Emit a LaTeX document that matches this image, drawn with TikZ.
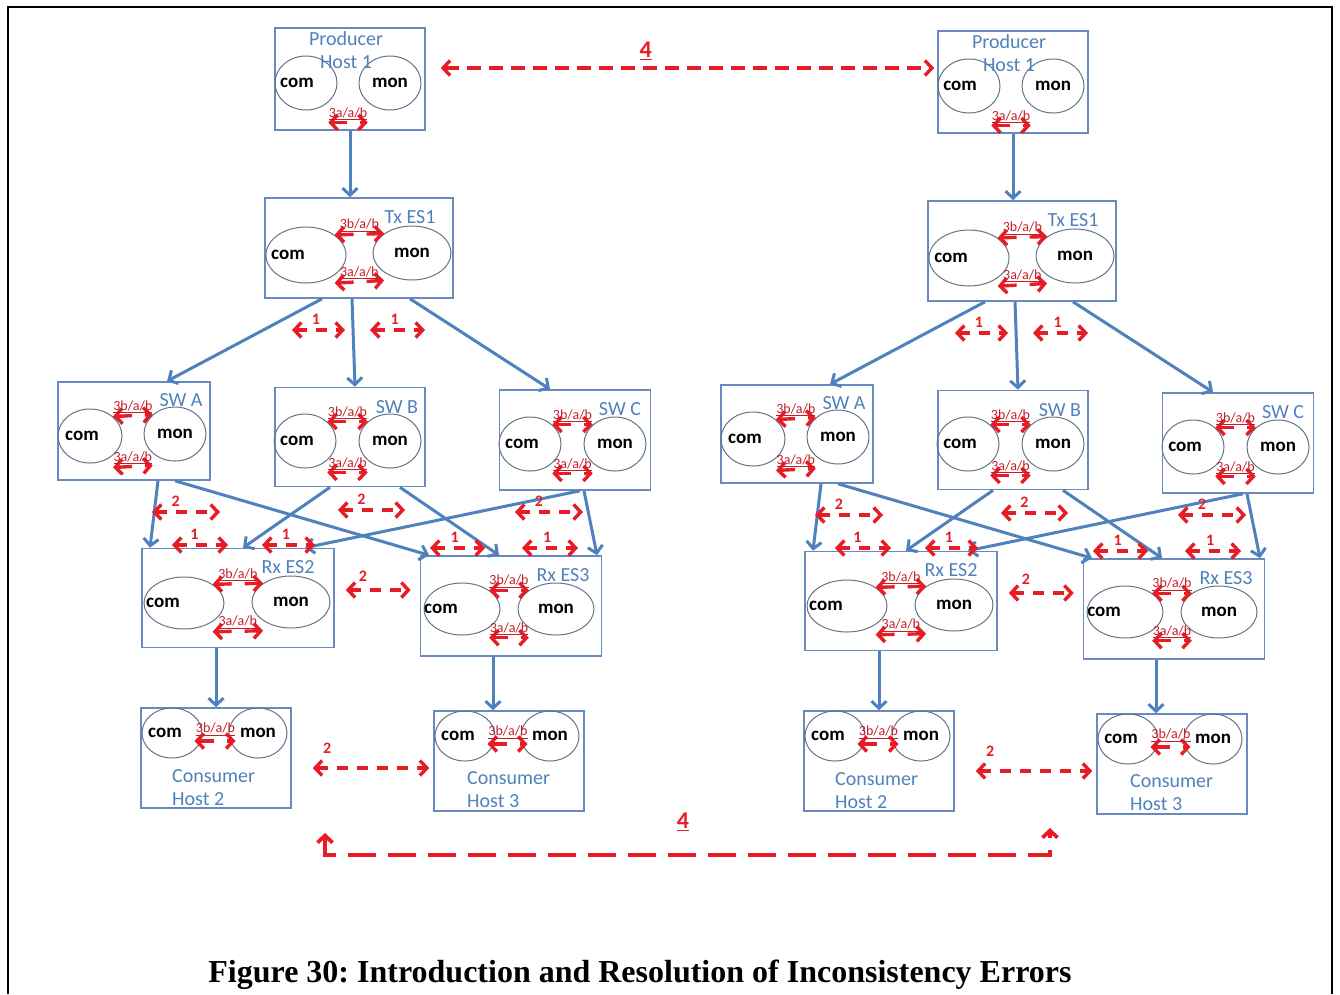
\documentclass[tikz,border=0pt]{standalone}
\usepackage{fontspec}
\setmainfont{Carlito}
\newfontfamily\capfont{Liberation Serif}
\usetikzlibrary{arrows.meta,shapes.geometric,positioning}

\definecolor{boxblue}{RGB}{105,138,190}
\definecolor{linkblue}{RGB}{79,129,189}
\definecolor{ovalgray}{RGB}{100,115,140}
\definecolor{errred}{RGB}{232,28,36}
\definecolor{tagred}{RGB}{196,30,40}

\tikzset{
  unit/.style={draw=boxblue, line width=1.6pt, minimum width=150pt, minimum height=100pt, inner sep=0pt},
  oval/.style={ellipse, draw=ovalgray, line width=1pt, inner sep=0pt, minimum width=62pt, minimum height=54pt,
    font=\fontsize{19}{19}\selectfont\bfseries},
  comoval/.style={oval, label={[font=\fontsize{19}{19}\selectfont\bfseries, xshift=#1]center:com}},
  comoval/.default=-8pt,
  unitname/.style={text=linkblue, font=\fontsize{20}{23}\selectfont, inner sep=0pt, align=center},
  link/.style={draw=linkblue, line width=3pt, -{Straight Barb[length=7pt,width=15pt]}},
  ipc/.style={draw=errred, line width=3.4pt, dash pattern=on 15pt off 13pt,
    {Straight Barb[length=7pt,width=15pt]}-{Straight Barb[length=7pt,width=15pt]}},
  tag/.style={text=tagred, font=\fontsize{14}{14}\selectfont, inner sep=1pt},
  err/.style={draw=errred, line width=3.4pt, dash pattern=on 11pt off 9pt,
    {Straight Barb[length=7pt,width=15pt]}-{Straight Barb[length=7pt,width=15pt]}},
  num/.style={text=errred, font=\fontsize{16}{16}\selectfont\bfseries, inner sep=1pt},
  bignum/.style={text=errred, font=\fontsize{24}{24}\selectfont\bfseries, inner sep=1pt},
}

\begin{document}
\frenchspacing
\begin{tikzpicture}[x=1pt,y=-1pt]
\useasboundingbox (0,0) rectangle (1340,994);
% page frame, open at the bottom
\draw[line width=1.5pt] (8,994) -- (8,7) -- (1332,7) -- (1332,994);

\foreach \s/\dx/\dy in {L/0/0,R/663/3}{
\begin{scope}[shift={(\dx,\dy)}]
  % producer host
  \node[unit, minimum height=102pt] (prod\s) at (350,79) {};
  \node[comoval=-9pt] (pcom\s) at (306,83) {};
  \node[oval] (pmon\s) at (390,83) {mon};
  \node[unitname] at (346,50) {Producer\\Host 1};
  \draw[ipc] ([yshift=-20pt]pcom\s.south east) -- node[tag, above]{\underline{3a/a/b}} ([yshift=-20pt]pmon\s.south west);

  % transmitting end system
  \node[unit, minimum width=188pt] (tx\s) at (359,248) {};
  \node[comoval=-18pt, minimum width=80pt, minimum height=56pt] (tcom\s) at (306,255) {};
  \node[oval, minimum width=78pt] (tmon\s) at (412,253) {mon};
  \node[unitname] at (410,217) {Tx ES1};
  \draw[ipc] (tcom\s.north east) -- node[tag, above]{\underline{3b/a/b}} (tmon\s.north west);
  \draw[ipc] ([yshift=-8pt]tcom\s.south east) -- node[tag, above]{\underline{3a/a/b}} ([yshift=-8pt]tmon\s.south west);

  % switches
  \node[unit, minimum width=152pt, minimum height=98pt] (swa\s) at (134,431) {};
  \node[comoval, minimum width=64pt] (acom\s) at (90,436) {};
  \node[oval] (amon\s) at (175,434) {mon};
  \node[unitname] at (181,400) {SW A};
  \draw[ipc] (acom\s.north east) -- node[tag, above]{\underline{3b/a/b}} (amon\s.north west);
  \draw[ipc] ([yshift=-12pt]acom\s.south east) -- node[tag, above]{\underline{3a/a/b}} ([yshift=-12pt]amon\s.south west);

  \node[unit, minimum height=99pt] (swb\s) at (350,437) {};
  \node[comoval] (bcom\s) at (305,441) {};
  \node[oval] (bmon\s) at (390,441) {mon};
  \node[unitname] at (397,407) {SW B};
  \draw[ipc] (bcom\s.north east) -- node[tag, above]{\underline{3b/a/b}} (bmon\s.north west);
  \draw[ipc] ([yshift=-12pt]bcom\s.south east) -- node[tag, above]{\underline{3a/a/b}} ([yshift=-12pt]bmon\s.south west);

  \node[unit, minimum width=151pt] (swc\s) at (575,440) {};
  \node[comoval] (ccom\s) at (530,444) {};
  \node[oval] (cmon\s) at (615,444) {mon};
  \node[unitname] at (620,409) {SW C};
  \draw[ipc] (ccom\s.north east) -- node[tag, above]{\underline{3b/a/b}} (cmon\s.north west);
  \draw[ipc] ([yshift=-10pt]ccom\s.south east) -- node[tag, above]{\underline{3a/a/b}} ([yshift=-10pt]cmon\s.south west);

  % receiving end systems
  \node[unit, minimum width=192pt, minimum height=99pt] (rx2\s) at (238,598) {};
  \node[comoval=-21pt, minimum width=80pt, minimum height=52pt] (rcom\s) at (184,603) {};
  \node[oval, minimum width=78pt, minimum height=52pt] (rmon\s) at (291,602) {mon};
  \node[unitname] at (288,567) {Rx ES2};
  \draw[ipc] (rcom\s.north east) -- node[tag, above]{\underline{3b/a/b}} (rmon\s.north west);
  \draw[ipc] ([yshift=-10pt]rcom\s.south east) -- node[tag, above]{\underline{3a/a/b}} ([yshift=-10pt]rmon\s.south west);

  \node[unit, minimum width=181pt] (rx3\s) at (511,606) {};
  \node[comoval=-21pt, minimum width=76pt, minimum height=52pt] (scom\s) at (462,609) {};
  \node[oval, minimum width=76pt, minimum height=52pt] (smon\s) at (556,609) {mon};
  \node[unitname] at (563,575) {Rx ES3};
  \draw[ipc] (scom\s.north east) -- node[tag, above]{\underline{3b/a/b}} (smon\s.north west);
  \draw[ipc] ([yshift=-10pt]scom\s.south east) -- node[tag, above]{\underline{3a/a/b}} ([yshift=-10pt]smon\s.south west);

  % consumer hosts
  \node[unit] (con2\s) at (216,758) {};
  \node[comoval=-7pt, minimum width=60pt, minimum height=50pt] (hcom\s) at (172,733) {};
  \node[oval, minimum width=58pt, minimum height=50pt] (hmon\s) at (258,733) {mon};
  \node[unitname, anchor=west, align=left] at (172,788) {Consumer\\Host 2};
  \draw[ipc, shorten <=-8pt, shorten >=-7pt] ([yshift=-8pt]hcom\s.east) -- node[tag, above=3pt]{\underline{3b/a/b}} ([yshift=-8pt]hmon\s.west);

  \node[unit] (con3\s) at (509,761) {};
  \node[comoval=-7pt, minimum width=60pt, minimum height=50pt] (kcom\s) at (465,736) {};
  \node[oval, minimum width=58pt, minimum height=50pt] (kmon\s) at (550,736) {mon};
  \node[unitname, anchor=west, align=left] at (467,790) {Consumer\\Host 3};
  \draw[ipc, shorten <=-8pt, shorten >=-7pt] ([yshift=-8pt]kcom\s.east) -- node[tag, above=3pt]{\underline{3b/a/b}} ([yshift=-8pt]kmon\s.west);

  % frame path
  \draw[link] (prod\s.south) -- (prod\s.south |- tx\s.north);
  \draw[link] ([xshift=-37pt]tx\s.south) -- ([xshift=33pt]swa\s.north);
  \draw[link] ([xshift=-7pt]tx\s.south) -- ([xshift=5pt]swb\s.north);
  \draw[link] ([xshift=51pt]tx\s.south) -- ([xshift=-25pt]swc\s.north);
  \draw[link] ([xshift=24pt]swa\s.south) -- ([xshift=-88pt]rx2\s.north);
  \draw[link] ([xshift=41pt]swa\s.south) -- ([xshift=-82pt]rx3\s.north);
  \draw[link] ([xshift=-20pt]swb\s.south) -- ([xshift=5pt]rx2\s.north);
  \draw[link] ([xshift=50pt]swb\s.south) -- ([xshift=-12pt]rx3\s.north);
  \draw[link] ([xshift=5pt]swc\s.south) -- ([xshift=67pt]rx2\s.north);
  \draw[link] ([xshift=9pt]swc\s.south) -- ([xshift=86pt]rx3\s.north);
  \draw[link] (con2\s.north |- rx2\s.south) -- (con2\s.north);
  \draw[link] ([xshift=-18pt]rx3\s.south) -- ([xshift=-16pt]con3\s.north);

  % inconsistencies between replicas
  \draw[err] (292,330) -- node[num, above=3pt, pos=0.45]{1} (345,330);
  \draw[err] (370,330) -- node[num, above=3pt, pos=0.45]{1} (425,330);
  \draw[err] (152,512) -- node[num, above=3pt, pos=0.35]{2} (220,512);
  \draw[err] (338,510) -- node[num, above=3pt, pos=0.35]{2} (405,510);
  \draw[err] (515,512) -- node[num, above=3pt, pos=0.35]{2} (583,512);
  \draw[err] (172,545) -- node[num, above=3pt, pos=0.4]{1} (228,545);
  \draw[err] (262,545) -- node[num, above=3pt, pos=0.45]{1} (315,545);
  \draw[err] (430,548) -- node[num, above=3pt, pos=0.45]{1} (485,548);
  \draw[err] (522,548) -- node[num, above=3pt, pos=0.45]{1} (578,548);
  \draw[err, shorten <=11pt, shorten >=9pt] ([yshift=8pt]rx2\s.east) -- node[num, above=6pt, pos=0.33]{2} ([yshift=8pt]rx2\s.east -| rx3\s.west);
  \draw[err, shorten <=21pt, shorten >=4pt] ([yshift=-10pt]con2\s.east) -- node[num, above=12pt, pos=0.25]{2} ([yshift=-10pt]con2\s.east -| con3\s.west);
\end{scope}
}

% producers out of step
\draw[err, dash pattern=on 14pt off 8pt, shorten <=15pt, shorten >=3pt]
  ([yshift=11pt]prodL.east) -- node[bignum, above=6pt, pos=0.43]{\underline{4}} ([yshift=11pt]prodL.east -| prodR.west);

% consumers out of step
\coordinate (dropL) at (325,833);
\coordinate (dropR) at (1050,828);
\coordinate (baseR) at (1050,855);
\draw[err, line width=3.8pt, dash pattern=on 28pt off 12pt] (dropL) |- (baseR) -- (dropR);
\node[bignum] (four) at (683,822) {\underline{4}};

\node[anchor=base, font=\capfont\fontsize{32}{36}\selectfont\bfseries] (caption) at (640,982)
  {Figure 30: Introduction and Resolution of Inconsistency Errors};
\end{tikzpicture}
\end{document}
